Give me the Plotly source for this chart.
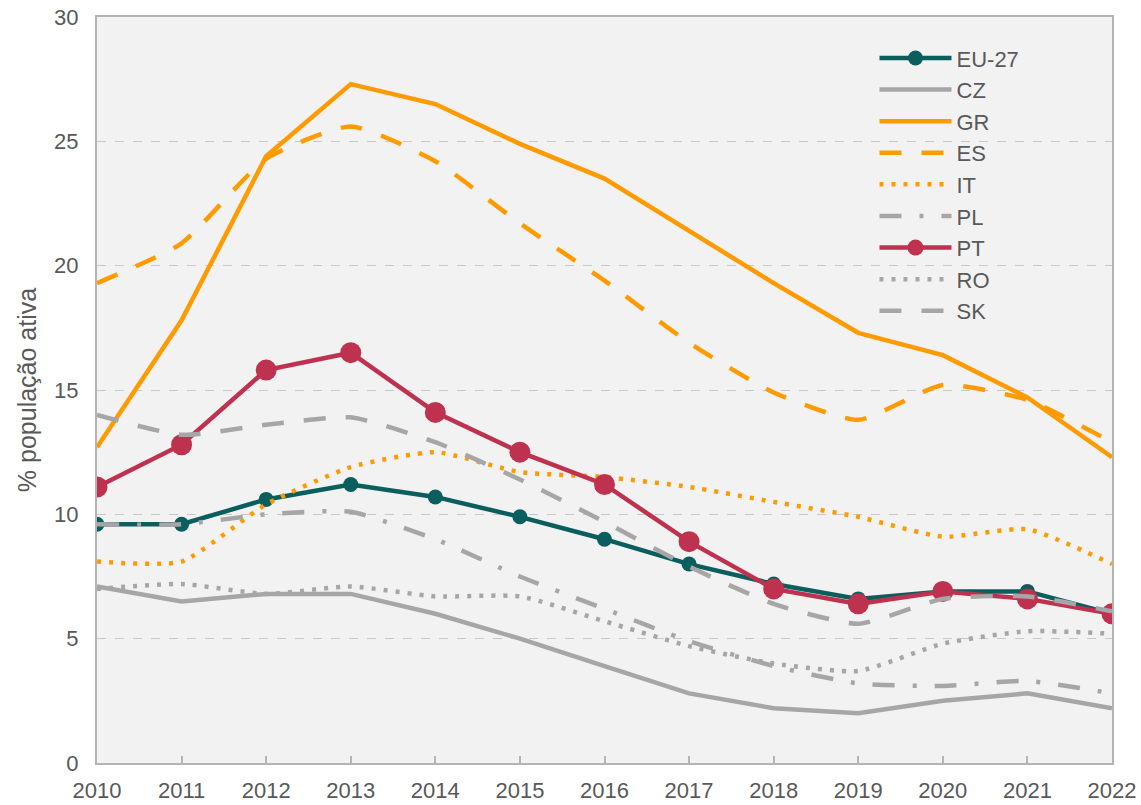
import plotly.graph_objects as go

years = list(range(2010, 2023))

eu27 = [9.6, 9.6, 10.6, 11.2, 10.7, 9.9, 9.0, 8.0, 7.2, 6.6, 6.9, 6.9, 6.0]
cz = [7.1, 6.5, 6.8, 6.8, 6.0, 5.0, 3.9, 2.8, 2.2, 2.0, 2.5, 2.8, 2.2]
gr = [12.7, 17.8, 24.4, 27.3, 26.5, 24.9, 23.5, 21.4, 19.3, 17.3, 16.4, 14.7, 12.3]
es = [19.3, 20.9, 24.3, 25.6, 24.2, 21.7, 19.4, 16.9, 14.9, 13.8, 15.2, 14.6, 12.9]
it = [8.1, 8.1, 10.4, 11.9, 12.5, 11.7, 11.5, 11.1, 10.5, 9.9, 9.1, 9.4, 8.0]
pl = [9.6, 9.6, 10.0, 10.1, 9.0, 7.5, 6.2, 4.9, 3.9, 3.2, 3.1, 3.3, 2.8]
pt = [11.1, 12.8, 15.8, 16.5, 14.1, 12.5, 11.2, 8.9, 7.0, 6.4, 6.9, 6.6, 6.0]
ro = [7.0, 7.2, 6.8, 7.1, 6.7, 6.7, 5.7, 4.7, 4.0, 3.7, 4.8, 5.3, 5.2]
sk = [14.0, 13.2, 13.6, 13.9, 12.9, 11.4, 9.7, 7.9, 6.4, 5.6, 6.6, 6.7, 6.1]

y_ticks = [0, 5, 10, 15, 20, 25, 30]

TEAL = "#0b5e5e"
CRIMSON = "#be324f"
ORANGE = "#ff9a00"
GRAY = "#a6a6a6"
TEXT = "#595959"

series = [
    ("EU-27", eu27, dict(color=TEAL, width=4.5), dict(size=15, color=TEAL), "lines+markers", "linear"),
    ("CZ", cz, dict(color=GRAY, width=4.5), None, "lines", "linear"),
    ("GR", gr, dict(color=ORANGE, width=4.5), None, "lines", "linear"),
    ("ES", es, dict(color=ORANGE, width=4.5, dash="22px,20px"), None, "lines", "spline"),
    ("IT", it, dict(color=ORANGE, width=4.5, dash="4px,8px"), None, "lines", "spline"),
    ("PL", pl, dict(color=GRAY, width=4.5, dash="22px,18px,4px,18px"), None, "lines", "spline"),
    ("PT", pt, dict(color=CRIMSON, width=4.5), dict(size=21, color=CRIMSON), "lines+markers", "linear"),
    ("RO", ro, dict(color=GRAY, width=4.5, dash="4px,8px"), None, "lines", "spline"),
    ("SK", sk, dict(color=GRAY, width=4.5, dash="22px,20px"), None, "lines", "spline"),
]

fig = go.Figure()
for name, vals, line, marker, mode, shape in series:
    line = dict(line)
    line["shape"] = shape
    if shape == "spline":
        line["smoothing"] = 0.55
    kw = dict(x=years, y=vals, name=name, mode=mode, line=line)
    if marker:
        kw["marker"] = marker
    fig.add_trace(go.Scatter(**kw))

fig.update_layout(
    width=1141, height=805,
    margin=dict(l=97, r=29, t=17, b=42),
    paper_bgcolor="white",
    plot_bgcolor="#f2f2f2",
    font=dict(family="Liberation Sans, Arial, sans-serif", size=22, color=TEXT),
    showlegend=True,
    legend=dict(
        x=0.766, y=0.973, xanchor="left", yanchor="top",
        bgcolor="rgba(0,0,0,0)", font=dict(size=22, color=TEXT),
        itemwidth=72, tracegroupgap=0,
    ),
    xaxis=dict(
        range=[2010, 2022], tickmode="array", tickvals=years,
        ticktext=[str(y) for y in years],
        showgrid=False, zeroline=False, automargin=False,
        showline=True, mirror=True, linecolor="#b4b4b4", linewidth=2,
        ticks="inside", ticklen=7, tickcolor="#b4b4b4", tickwidth=2,
        ticklabelstandoff=7, ticklabeloverflow="allow",
        tickfont=dict(size=22, color=TEXT),
    ),
    yaxis=dict(
        range=[0, 30], tickmode="array", tickvals=y_ticks,
        showgrid=True, gridcolor="#c8c8c8", griddash="dash", gridwidth=1,
        zeroline=False, showline=True, mirror=True, linecolor="#b4b4b4", linewidth=2,
        automargin=False,
        ticks="", ticklabelstandoff=12, ticklabeloverflow="allow",
        tickfont=dict(size=22, color=TEXT),
        title=dict(text="% população ativa", font=dict(size=25, color=TEXT), standoff=10),
    ),
)

# remove the browser's default 8px body margin so the figure fills the window exactly
fig.write_html(
    "out.html",
    config={"displayModeBar": False},
    post_script="document.body.style.margin='0';document.body.style.overflow='hidden';",
)
